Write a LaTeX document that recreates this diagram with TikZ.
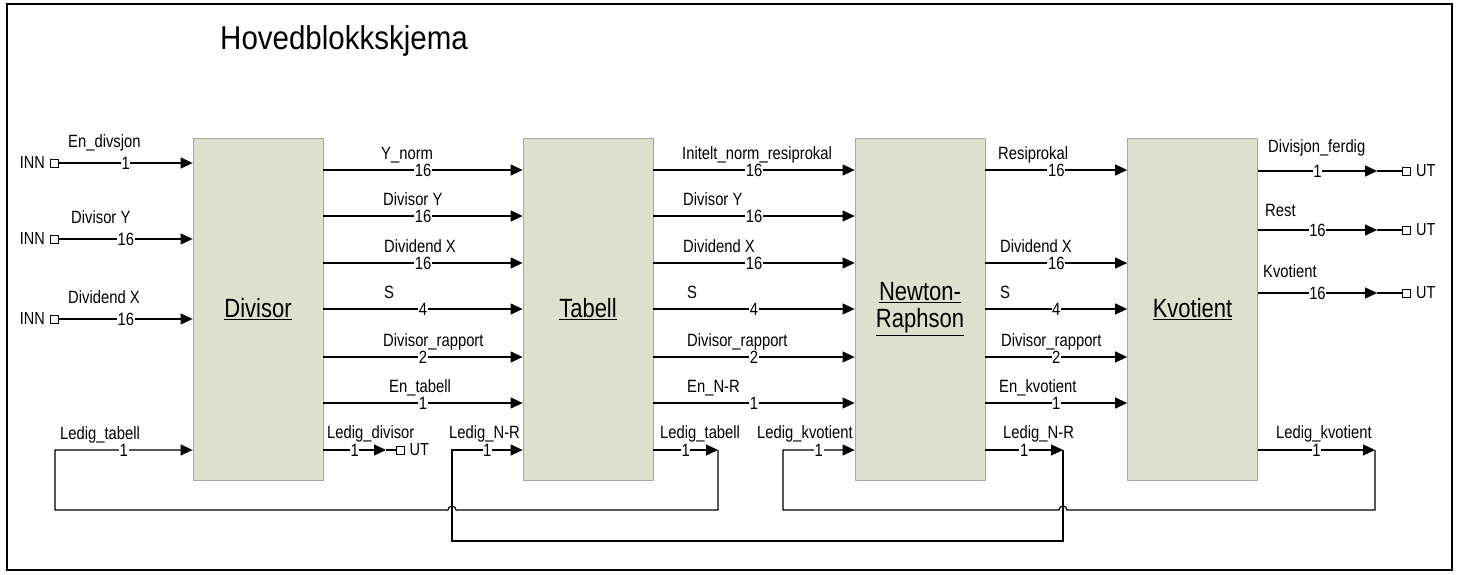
\documentclass[tikz,border=0pt]{standalone}
\usepackage{fontspec}
\setmainfont{Liberation Sans}
\usetikzlibrary{arrows.meta}
\definecolor{blockfill}{RGB}{221,224,204}
\definecolor{blockedge}{RGB}{165,168,155}
% slightly tall lettering
\newcommand{\tallt}[1]{\scalebox{1}[1.2]{#1}}

\tikzset{
  block/.style={draw=blockedge, fill=blockfill, line width=0.8pt,
    minimum width=130pt, minimum height=342pt, inner sep=0pt,
    font=\fontsize{22}{25}\selectfont, align=center},
  sig/.style={line width=1.2pt, -{Triangle[length=12pt,width=11pt]}},
  wire/.style={line width=1.2pt},
  lbl/.style={font=\fontsize{14.8}{17}\selectfont, inner sep=0pt, anchor=base west},
  num/.style={font=\fontsize{14.8}{17}\selectfont, fill=white, inner sep=0.6pt},
  port/.style={draw, line width=0.9pt, minimum size=8pt, inner sep=0pt},
  ptxt/.style={font=\fontsize{14.5}{17}\selectfont, inner sep=0pt},
}

\begin{document}
\begin{tikzpicture}[x=1pt,y=-1pt]
\useasboundingbox (0,0) rectangle (1459,574);
\draw[line width=2.5pt] (7,4) rectangle (1452,570);

\node[font=\fontsize{29.5}{34}\selectfont, inner sep=0pt, anchor=base west] (title)
  at (220,49) {\scalebox{1}[1.12]{Hovedblokkskjema}};

% blocks
\node[block] (div) at (258,309) {\tallt{\underline{Divisor}}};
\node[block] (tab) at (588,309) {\tallt{\underline{Tabell}}};
\node[block] (nr)  at (920,309) {\tallt{\underline{Newton-}}\\[2pt]\tallt{\underline{Raphson}}};
\node[block] (kvo) at (1192.5,309) {\tallt{\underline{Kvotient}}};

% signal rows
\coordinate (r1) at (0,170);
\coordinate (r2) at (0,216);
\coordinate (r3) at (0,263);
\coordinate (r4) at (0,309);
\coordinate (r5) at (0,357);
\coordinate (r6) at (0,403);
\coordinate (rL) at (0,450);
\coordinate (ro1) at (0,171);
\coordinate (ro2) at (0,230);
\coordinate (ro3) at (0,293);

% inputs
\node[port] (in1) at (54.5,163) {};
\node[port] (in2) at (54.5,239) {};
\node[port] (in3) at (54.5,319) {};
\node[ptxt, anchor=east] (in1t) at ([xshift=-5pt]in1.west) {\tallt{INN}};
\node[ptxt, anchor=east] (in2t) at ([xshift=-5pt]in2.west) {\tallt{INN}};
\node[ptxt, anchor=east] (in3t) at ([xshift=-5pt]in3.west) {\tallt{INN}};
\draw[sig] (in1.east) -- (in1.east -| div.west) node[num,midway] {\tallt{1}};
\draw[sig] (in2.east) -- (in2.east -| div.west) node[num,midway] {\tallt{16}};
\draw[sig] (in3.east) -- (in3.east -| div.west) node[num,midway] {\tallt{16}};
\node[lbl] (li1) at (68,147) {\tallt{En\_divsjon}};
\node[lbl] (li2) at (71,223) {\tallt{Divisor Y}};
\node[lbl] (li3) at (68,303) {\tallt{Dividend X}};

% Divisor -> Tabell
\draw[sig] (div.east |- r1) -- (tab.west |- r1) node[num,midway] {\tallt{16}};
\draw[sig] (div.east |- r2) -- (tab.west |- r2) node[num,midway] {\tallt{16}};
\draw[sig] (div.east |- r3) -- (tab.west |- r3) node[num,midway] {\tallt{16}};
\draw[sig] (div.east |- r4) -- (tab.west |- r4) node[num,midway] {\tallt{4}};
\draw[sig] (div.east |- r5) -- (tab.west |- r5) node[num,midway] {\tallt{2}};
\draw[sig] (div.east |- r6) -- (tab.west |- r6) node[num,midway] {\tallt{1}};
\node[lbl] (ld1) at (381,159) {\tallt{Y\_norm}};
\node[lbl] (ld2) at (383,205) {\tallt{Divisor Y}};
\node[lbl] (ld3) at (384,252) {\tallt{Dividend X}};
\node[lbl] (ld4) at (384,298) {\tallt{S}};
\node[lbl] (ld5) at (383,346) {\tallt{Divisor\_rapport}};
\node[lbl] (ld6) at (389,392) {\tallt{En\_tabell}};

% Ledig_divisor out
\coordinate (ldtip) at (386,450);
\node[port] (out0) at (400,450) {};
\node[ptxt, anchor=west] (out0t) at ([xshift=5pt]out0.east) {\tallt{UT}};
\draw[sig] (div.east |- rL) -- (ldtip) node[num,midway] {\tallt{1}};
\draw[wire] (ldtip) -- (out0.west);
\node[lbl] (ld7) at (327,438) {\tallt{Ledig\_divisor}};

% Tabell -> Newton-Raphson
\draw[sig] (tab.east |- r1) -- (nr.west |- r1) node[num,midway] {\tallt{16}};
\draw[sig] (tab.east |- r2) -- (nr.west |- r2) node[num,midway] {\tallt{16}};
\draw[sig] (tab.east |- r3) -- (nr.west |- r3) node[num,midway] {\tallt{16}};
\draw[sig] (tab.east |- r4) -- (nr.west |- r4) node[num,midway] {\tallt{4}};
\draw[sig] (tab.east |- r5) -- (nr.west |- r5) node[num,midway] {\tallt{2}};
\draw[sig] (tab.east |- r6) -- (nr.west |- r6) node[num,midway] {\tallt{1}};
\node[lbl] (lt1) at (682,159) {\tallt{Initelt\_norm\_resiprokal}};
\node[lbl] (lt2) at (683,205) {\tallt{Divisor Y}};
\node[lbl] (lt3) at (683,252) {\tallt{Dividend X}};
\node[lbl] (lt4) at (687,298) {\tallt{S}};
\node[lbl] (lt5) at (687,346) {\tallt{Divisor\_rapport}};
\node[lbl] (lt6) at (687,392) {\tallt{En\_N-R}};

% Newton-Raphson -> Kvotient
\draw[sig] (nr.east |- r1) -- (kvo.west |- r1) node[num,midway] {\tallt{16}};
\draw[sig] (nr.east |- r3) -- (kvo.west |- r3) node[num,midway] {\tallt{16}};
\draw[sig] (nr.east |- r4) -- (kvo.west |- r4) node[num,midway] {\tallt{4}};
\draw[sig] (nr.east |- r5) -- (kvo.west |- r5) node[num,midway] {\tallt{2}};
\draw[sig] (nr.east |- r6) -- (kvo.west |- r6) node[num,midway] {\tallt{1}};
\node[lbl] (ln1) at (998,159) {\tallt{Resiprokal}};
\node[lbl] (ln3) at (1000,252) {\tallt{Dividend X}};
\node[lbl] (ln4) at (1000,298) {\tallt{S}};
\node[lbl] (ln5) at (1001,346) {\tallt{Divisor\_rapport}};
\node[lbl] (ln6) at (999,392) {\tallt{En\_kvotient}};

% Kvotient outputs
\node[port] (out1) at (1406.5,171) {};
\node[port] (out2) at (1406.5,230) {};
\node[port] (out3) at (1406.5,293) {};
\foreach \p in {1,2,3}{
  \node[ptxt, anchor=west] (out\p t) at ([xshift=5pt]out\p.east) {\tallt{UT}};
  \coordinate (otip\p) at ([xshift=-25pt]out\p.west);
  \draw[wire] (otip\p) -- (out\p.west);
}
\draw[sig] (kvo.east |- ro1) -- (otip1) node[num,midway] {\tallt{1}};
\draw[sig] (kvo.east |- ro2) -- (otip2) node[num,midway] {\tallt{16}};
\draw[sig] (kvo.east |- ro3) -- (otip3) node[num,midway] {\tallt{16}};
\node[lbl] (lk1) at (1268,152) {\tallt{Divisjon\_ferdig}};
\node[lbl] (lk2) at (1265,216) {\tallt{Rest}};
\node[lbl] (lk3) at (1263,277) {\tallt{Kvotient}};

% ready/handshake loops
\coordinate (tipA) at (718,450);
\coordinate (tipB) at (1063,450);
\coordinate (tipC) at (1375,450);
\coordinate (A1) at (718,510);
\coordinate (A2) at (55,510);
\coordinate (A3) at (55,450);
\coordinate (B1) at (1063,541);
\coordinate (B2) at (452,541);
\coordinate (B3) at (452,450);
\coordinate (C1) at (1375,510);
\coordinate (C2) at (783,510);
\coordinate (C3) at (783,450);

\draw[sig] (tab.east |- rL) -- (tipA) node[num,midway] {\tallt{1}};
\draw[sig] (nr.east |- rL) -- (tipB) node[num,midway] {\tallt{1}};
\draw[sig] (kvo.east |- rL) -- (tipC) node[num,midway] {\tallt{1}};

\draw[sig] (tipA) -- (A1) -- ([xshift=4pt]B2 |- A1) arc[start angle=0,end angle=180,radius=4pt]
  -- (A2) -- (A3) -- (div.west |- A3) node[num,midway] {\tallt{1}};
\draw[sig] (tipB) -- (B1) -- (B2) -- (B3) -- (tab.west |- B3) node[num,midway] {\tallt{1}};
\draw[sig] (tipC) -- (C1) -- ([xshift=4pt]tipB |- C1) arc[start angle=0,end angle=180,radius=4pt]
  -- (C2) -- (C3) -- (nr.west |- C3) node[num,midway] {\tallt{1}};

\node[lbl] (lA1) at (60,439) {\tallt{Ledig\_tabell}};
\node[lbl] (lA2) at (660,438) {\tallt{Ledig\_tabell}};
\node[lbl] (lB1) at (449,438) {\tallt{Ledig\_N-R}};
\node[lbl] (lB2) at (1003,438) {\tallt{Ledig\_N-R}};
\node[lbl] (lC1) at (757,438) {\tallt{Ledig\_kvotient}};
\node[lbl] (lC2) at (1276,438) {\tallt{Ledig\_kvotient}};
\end{tikzpicture}
\end{document}
